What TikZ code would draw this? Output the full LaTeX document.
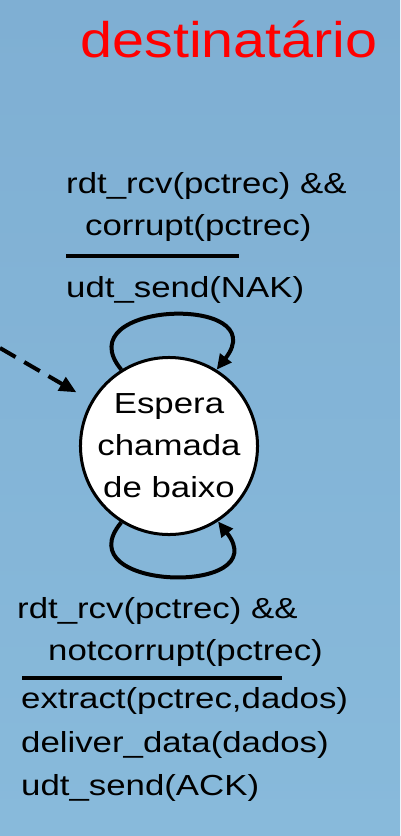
\documentclass[tikz,border=0pt]{standalone}
\usepackage{fontspec}
\setmainfont{Liberation Sans}
\newfontfamily\lblfont[FakeStretch=1.2]{Liberation Sans}
\newfontfamily\ttlfont[FakeStretch=1.15]{Liberation Sans}
\usetikzlibrary{arrows.meta}
\definecolor{bgtop}{RGB}{127,175,211}
\definecolor{bgbot}{RGB}{136,186,219}
\definecolor{ttlred}{RGB}{255,0,0}
\tikzset{
	lbl/.style = {anchor=base west, inner sep=0pt, font=\lblfont\fontsize{29}{42}\selectfont},
	state/.style = {circle, draw, fill=white, line width=3pt, minimum size=168pt, inner sep=0pt,
		align=center, font=\lblfont\fontsize{29}{42}\selectfont},
	selfloop/.style = {line width=4pt, -{Triangle[length=15pt,width=14pt]}},
	bar/.style = {line width=4pt}
}
\begin{document}
\begin{tikzpicture}[x=1pt, y=-1pt]
	% background
	\shade[top color=bgtop, bottom color=bgbot] (0,0) rectangle (400,836);
	\useasboundingbox (0,0) rectangle (400,836);
	% title
	\node[anchor=base, inner sep=0pt, text=ttlred, font=\ttlfont\fontsize{50}{60}\selectfont] (title) at (229,57) {destinatário};
	% state
	\node[state] (st) at (169,446) {Espera\\chamada\\de baixo};
	% initial (dashed) arrow
	\coordinate (init) at (0,348);
	\draw[line width=4pt, dash pattern=on 18pt off 10pt, shorten >=17pt,
		-{Triangle[length=17pt,width=15pt]}] (init) -- (st);
	% self loop, top
	\draw[selfloop] (st.122) .. controls +(-57,-69) and +(59,-76) .. (st.58);
	\node[lbl] (topA) at (66,193) {rdt\_rcv(pctrec) \&\&};
	\node[lbl] (topB) at (85,235) {corrupt(pctrec)};
	\draw[bar] (66,256) -- (239,256);
	\node[lbl] (topC) at (66,297) {udt\_send(NAK)};
	% self loop, bottom
	\draw[selfloop] (st.238) .. controls +(-58,69) and +(59,75) .. (st.303);
	\node[lbl] (botA) at (17,618) {rdt\_rcv(pctrec) \&\&};
	\node[lbl] (botB) at (48,660) {notcorrupt(pctrec)};
	\draw[bar] (22,678) -- (282,678);
	\node[lbl] (botC) at (21,708) {extract(pctrec,dados)};
	\node[lbl] (botD) at (21,752) {deliver\_data(dados)};
	\node[lbl] (botE) at (21,795) {udt\_send(ACK)};
\end{tikzpicture}
\end{document}
